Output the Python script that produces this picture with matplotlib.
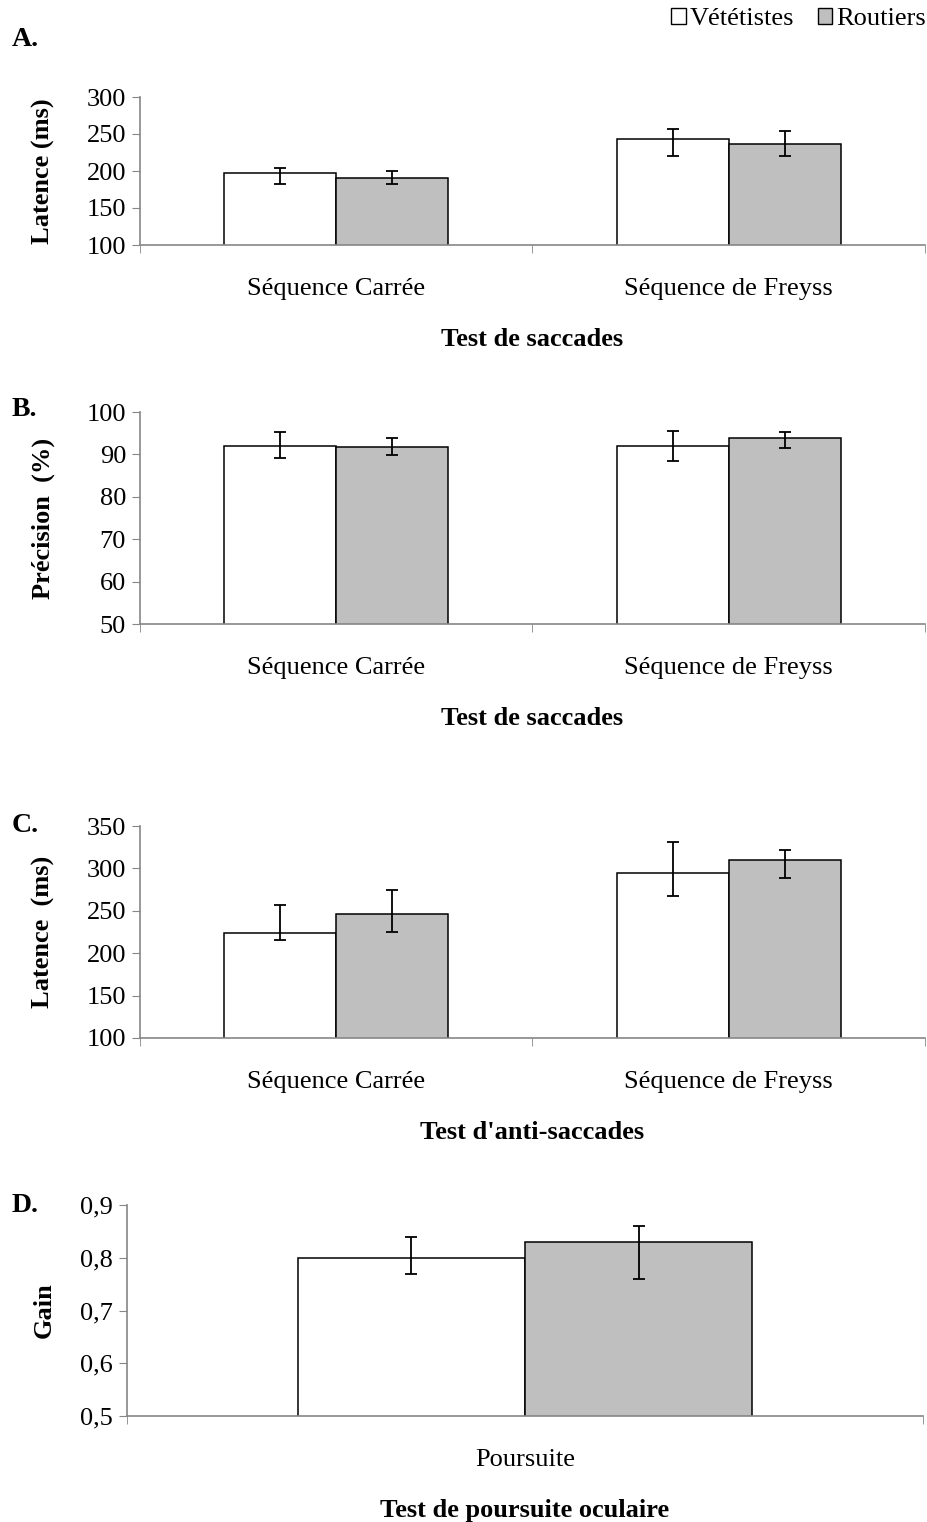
import matplotlib
matplotlib.use("Agg")
import matplotlib.pyplot as plt
import numpy as np
from matplotlib.patches import Patch

plt.rcParams['font.family'] = ['Liberation Serif', 'DejaVu Serif']

# ---- data ----
groups = ["Vététistes", "Routiers"]
saccade_cats = ["Séquence Carrée", "Séquence de Freyss"]
pursuit_cats = ["Poursuite"]

# A. saccade latency (ms)
a_vet = [197, 243]
a_vet_lo = [14, 23]
a_vet_hi = [7, 14]
a_rou = [191, 236]
a_rou_lo = [9, 16]
a_rou_hi = [9, 18]

# B. saccade precision (%)
b_vet = [92.0, 92.0]
b_vet_lo = [2.8, 3.6]
b_vet_hi = [3.2, 3.6]
b_rou = [91.8, 93.9]
b_rou_lo = [2.0, 2.5]
b_rou_hi = [2.0, 1.4]

# C. anti-saccade latency (ms)
c_vet = [224, 294]
c_vet_lo = [9, 27]
c_vet_hi = [33, 37]
c_rou = [246, 310]
c_rou_lo = [21, 21]
c_rou_hi = [29, 12]

# D. pursuit gain
d_vet = [0.80]
d_vet_lo = [0.03]
d_vet_hi = [0.04]
d_rou = [0.83]
d_rou_lo = [0.07]
d_rou_hi = [0.03]

W, H = 928, 1522
FS = 19
WHITE = "#FFFFFF"
GREY = "#BFBFBF"
AXCOL = "#868686"

fig = plt.figure(figsize=(W / 100, H / 100), dpi=100)


def make_axes(left, right, top, bottom):
    return fig.add_axes([left / W, 1 - bottom / H, (right - left) / W, (bottom - top) / H])


def draw_panel(ax, cats, vet, vet_err, rou, rou_err, ylim, yticks, yticklabels,
               ylabel, xlabel, ylabel_x):
    n = len(cats)
    x = np.arange(n)
    bw = 0.2857
    err_kw = dict(ecolor="black", elinewidth=1.3, capsize=4.5, capthick=1.3)
    ax.bar(x - bw / 2, vet, bw, color=WHITE, edgecolor="black", linewidth=1.1,
           yerr=vet_err, error_kw=err_kw, zorder=2)
    ax.bar(x + bw / 2, rou, bw, color=GREY, edgecolor="black", linewidth=1.1,
           yerr=rou_err, error_kw=err_kw, zorder=2)
    ax.set_xlim(-0.5, n - 0.5)
    ax.set_ylim(*ylim)
    ax.set_yticks(yticks)
    ax.set_yticklabels(yticklabels, fontsize=FS)
    ax.set_xticks(x)
    ax.set_xticklabels(cats, fontsize=FS)
    ax.set_xticks(np.arange(n + 1) - 0.5, minor=True)
    ax.tick_params(axis="x", which="major", length=0, pad=24)
    ax.tick_params(axis="x", which="minor", length=6, color=AXCOL, direction="out")
    ax.tick_params(axis="y", length=6, color=AXCOL, direction="out", pad=4)
    for side in ("top", "right"):
        ax.spines[side].set_visible(False)
    for side in ("left", "bottom"):
        ax.spines[side].set_color(AXCOL)
        ax.spines[side].set_linewidth(1.2)
    ax.set_xlabel(xlabel, fontsize=FS, fontweight="bold", labelpad=20)
    ax.set_ylabel(ylabel, fontsize=FS, fontweight="bold")
    ax.yaxis.set_label_coords(ylabel_x, 0.5)


axA = make_axes(140, 925, 97, 245)
draw_panel(axA, saccade_cats, a_vet, [a_vet_lo, a_vet_hi], a_rou, [a_rou_lo, a_rou_hi],
           (100, 300), [100, 150, 200, 250, 300], ["100", "150", "200", "250", "300"],
           "Latence (ms)", "Test de saccades", -0.108)

axB = make_axes(140, 925, 412, 624)
draw_panel(axB, saccade_cats, b_vet, [b_vet_lo, b_vet_hi], b_rou, [b_rou_lo, b_rou_hi],
           (50, 100), [50, 60, 70, 80, 90, 100], ["50", "60", "70", "80", "90", "100"],
           "Précision  (%)", "Test de saccades", -0.108)

axC = make_axes(140, 925, 826, 1038)
draw_panel(axC, saccade_cats, c_vet, [c_vet_lo, c_vet_hi], c_rou, [c_rou_lo, c_rou_hi],
           (100, 350), [100, 150, 200, 250, 300, 350],
           ["100", "150", "200", "250", "300", "350"],
           "Latence  (ms)", "Test d'anti-saccades", -0.108)

axD = make_axes(127, 923, 1205, 1416)
draw_panel(axD, pursuit_cats, d_vet, [d_vet_lo, d_vet_hi], d_rou, [d_rou_lo, d_rou_hi],
           (0.5, 0.9), [0.5, 0.6, 0.7, 0.8, 0.9], ["0,5", "0,6", "0,7", "0,8", "0,9"],
           "Gain", "Test de poursuite oculaire", -0.090)

# panel letters
for label, ypix in [("A.", 40), ("B.", 410), ("C.", 826), ("D.", 1205)]:
    fig.text(12 / W, 1 - ypix / H, label, fontsize=FS + 1, fontweight="bold",
             ha="left", va="center")

# legend
handles = [Patch(facecolor=WHITE, edgecolor="black", linewidth=1.0),
           Patch(facecolor=GREY, edgecolor="black", linewidth=1.0)]
fig.legend(handles, groups, loc="upper right", bbox_to_anchor=(926 / W, 1 - 8 / H),
           ncol=2, frameon=False, fontsize=FS, handlelength=0.55, handleheight=0.55,
           handletextpad=0.15, columnspacing=0.9, borderaxespad=0, borderpad=0)

fig.savefig("out.png", dpi=100)
